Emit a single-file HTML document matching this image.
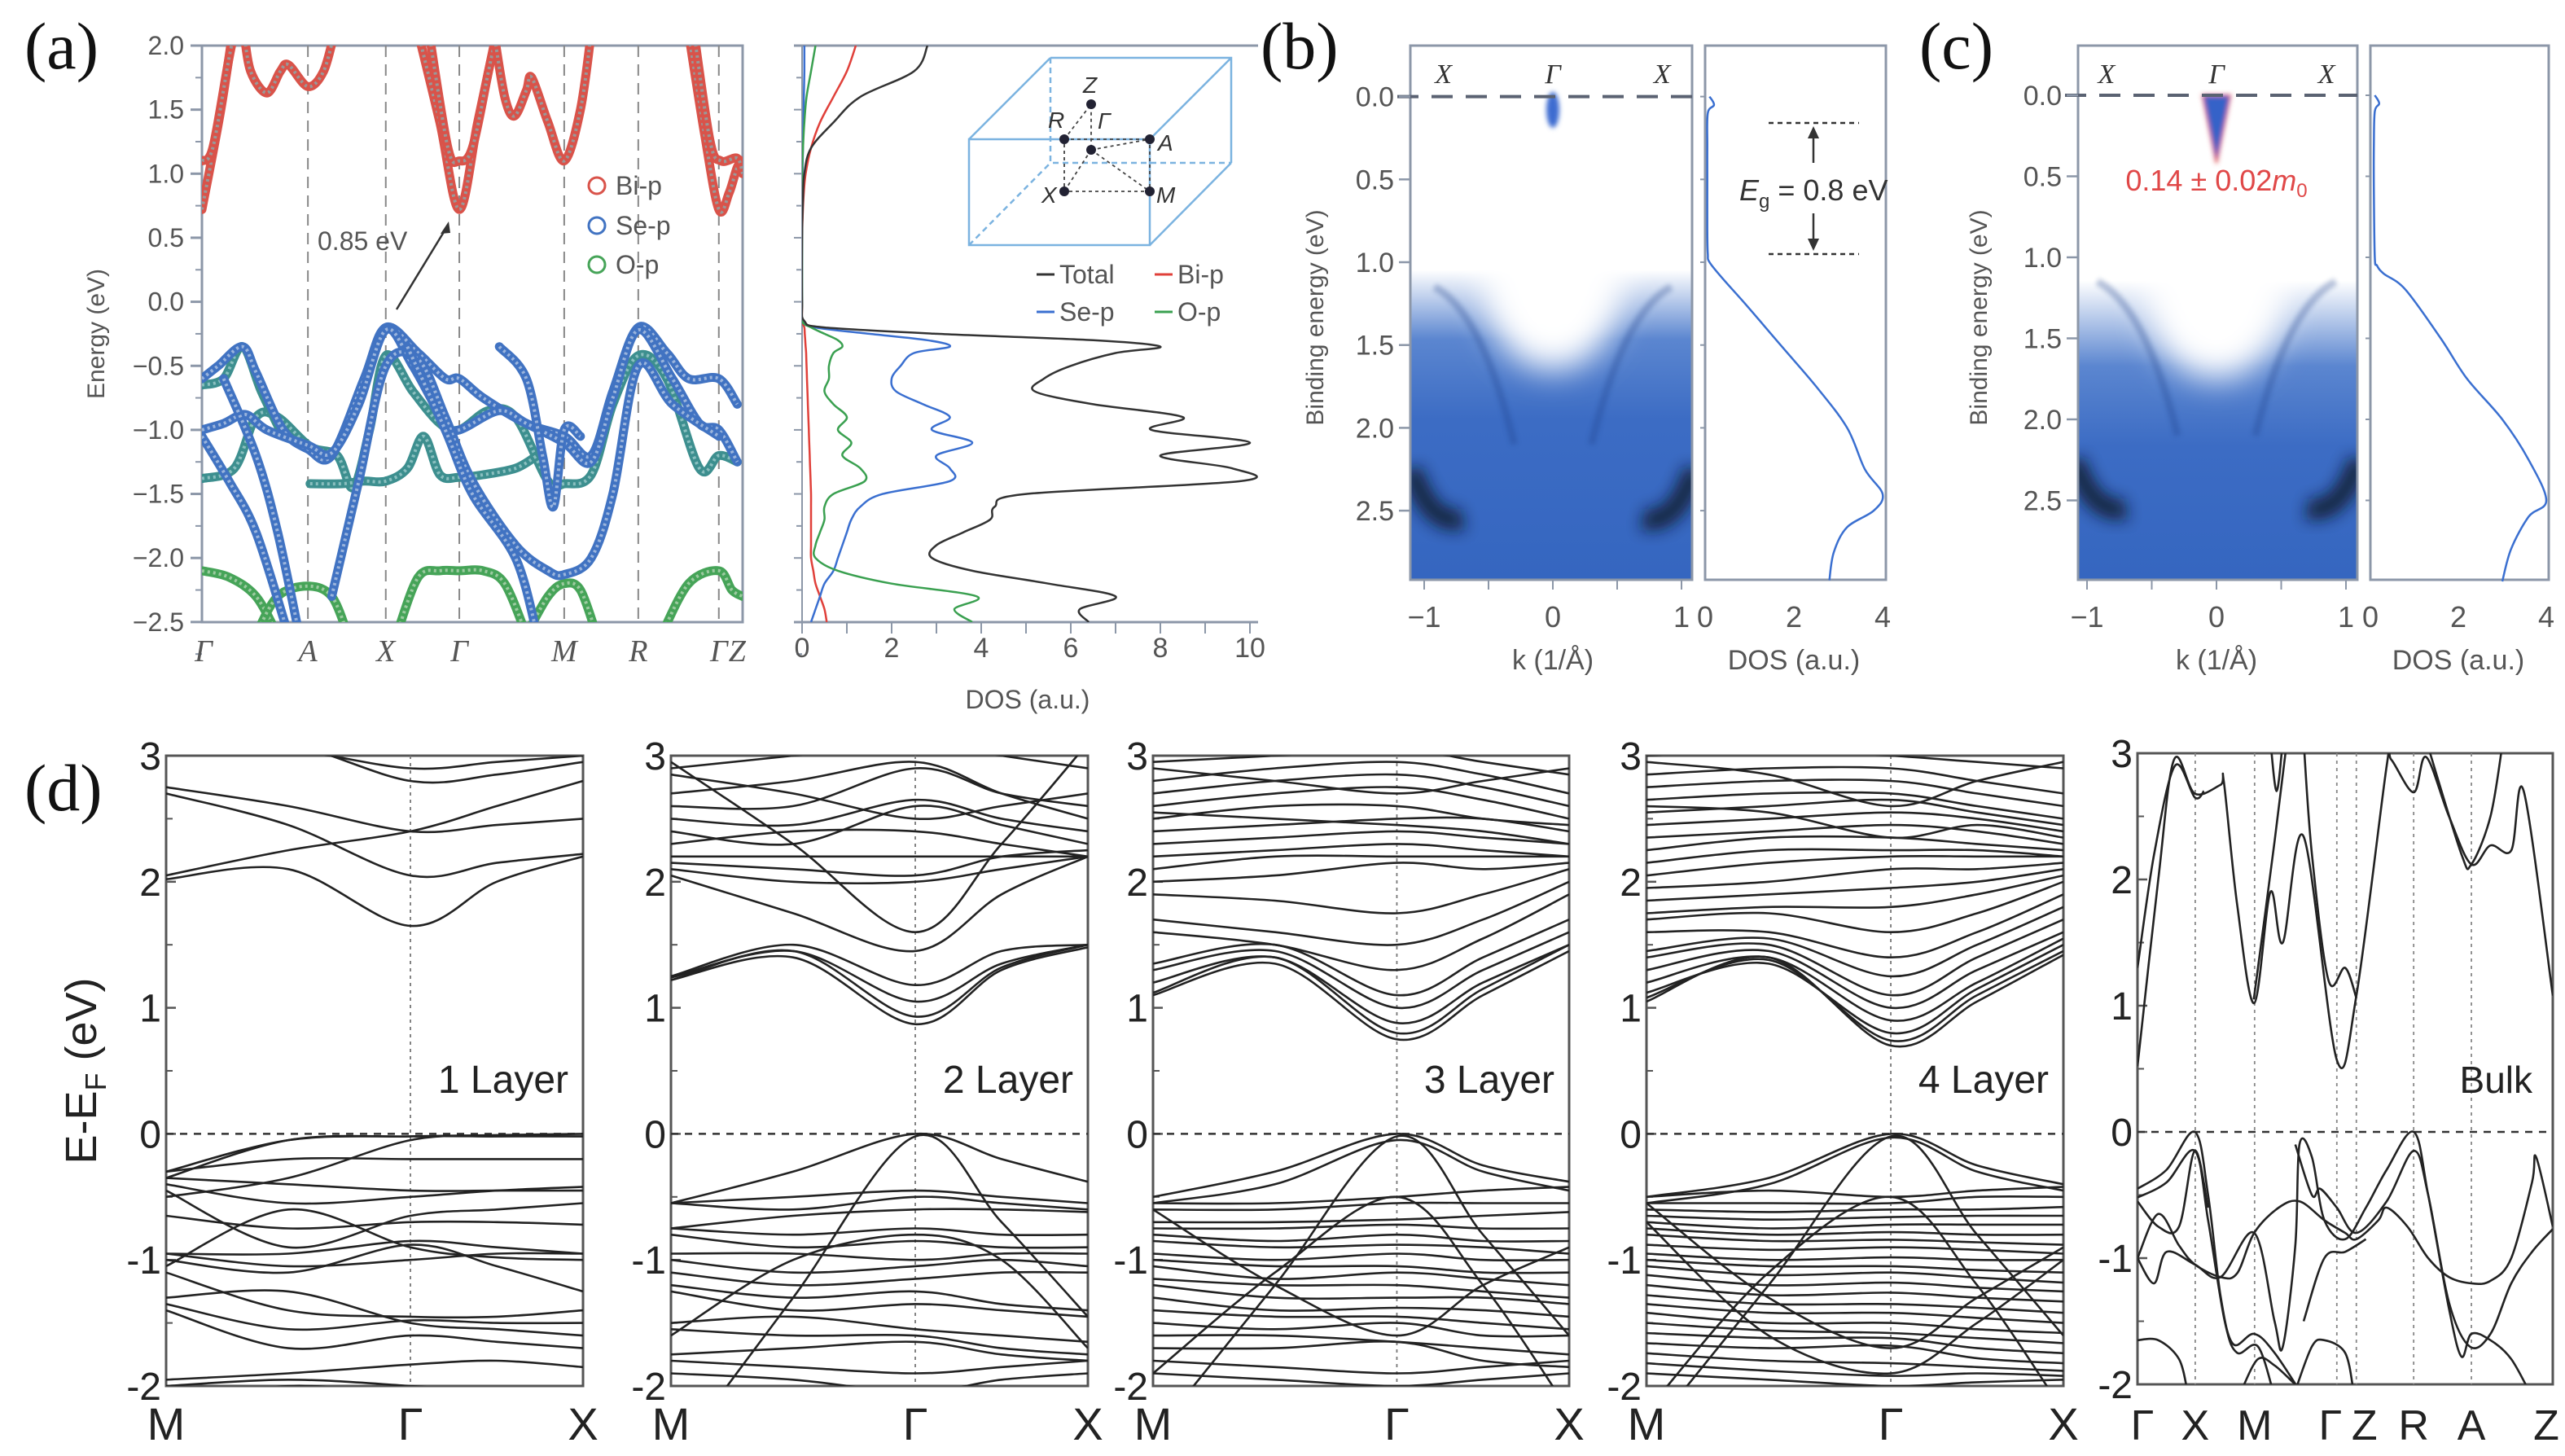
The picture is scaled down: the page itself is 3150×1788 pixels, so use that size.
<!DOCTYPE html>
<html><head><meta charset="utf-8">
<style>
html,body{margin:0;padding:0;background:#fff;}
svg{display:block;}
.nar{font-family:"Liberation Sans Narrow","Liberation Sans",sans-serif;}
.ser{font-family:"Liberation Serif",serif;}
.san{font-family:"Liberation Sans",sans-serif;}
</style></head>
<body>
<svg id="fig" xmlns="http://www.w3.org/2000/svg" width="3150" height="1788" viewBox="0 0 3150 1788">
<defs>
  <clipPath id="clipA"><rect x="248" y="56" width="664" height="708"/></clipPath>
  <clipPath id="clipAD"><rect x="985" y="56" width="560" height="708"/></clipPath>
  <clipPath id="clipB"><rect x="1732" y="56" width="346" height="656"/></clipPath>
  <clipPath id="clipC"><rect x="2552" y="56" width="343" height="656"/></clipPath>
  <clipPath id="clipD1"><rect x="204" y="928" width="512" height="774"/></clipPath>
  <clipPath id="clipD2"><rect x="824" y="928" width="512" height="774"/></clipPath>
  <clipPath id="clipD3"><rect x="1416" y="928" width="511" height="774"/></clipPath>
  <clipPath id="clipD4"><rect x="2022" y="928" width="512" height="774"/></clipPath>
  <clipPath id="clipD5"><rect x="2625" y="925" width="510" height="775"/></clipPath>
  <filter id="blur20" x="-50%" y="-50%" width="200%" height="200%"><feGaussianBlur stdDeviation="20"/></filter>
  <filter id="blur10" x="-50%" y="-50%" width="200%" height="200%"><feGaussianBlur stdDeviation="9"/></filter>
  <filter id="blur4" x="-50%" y="-50%" width="200%" height="200%"><feGaussianBlur stdDeviation="3"/></filter>
  <linearGradient id="arpesGradB" x1="0" y1="0" x2="0" y2="1">
    <stop offset="0" stop-color="#fff"/><stop offset="0.42" stop-color="#fff"/>
    <stop offset="0.55" stop-color="#5b86d0"/><stop offset="0.7" stop-color="#3c6cc4"/><stop offset="1" stop-color="#3566c0"/>
  </linearGradient>
  <linearGradient id="arpesGradC" x1="0" y1="0" x2="0" y2="1">
    <stop offset="0" stop-color="#fff"/><stop offset="0.44" stop-color="#fff"/>
    <stop offset="0.6" stop-color="#5b86d0"/><stop offset="0.75" stop-color="#3c6cc4"/><stop offset="1" stop-color="#3566c0"/>
  </linearGradient>
</defs>

<text x="30" y="84" font-size="82" class="ser" fill="#111">(a)</text>
<text x="1548" y="84" font-size="82" class="ser" fill="#111">(b)</text>
<text x="2357" y="84" font-size="82" class="ser" fill="#111">(c)</text>
<text x="30" y="995" font-size="82" class="ser" fill="#111">(d)</text>

<g id="gA"></g>
<g id="gAD"></g>
<g id="gB"></g>
<g id="gC"></g>
<g id="gD"></g>
</svg>

<script>
const aBandsRed = [
 [[0,0.72],[0.035,1.5],[0.06,2.2]],
 [[0,1.1],[0.02,1.2],[0.05,1.9],[0.065,2.2]],
 [[0.078,2.1],[0.09,1.8],[0.12,1.63],[0.145,1.8],[0.16,1.85],[0.196,1.68],[0.225,1.8],[0.245,2.1]],
 [[0.4,2.1],[0.44,1.4],[0.476,0.72],[0.51,1.4],[0.545,2.1]],
 [[0.42,2.1],[0.455,1.2],[0.476,1.1],[0.5,1.2],[0.53,1.8],[0.545,2.1]],
 [[0.54,2.1],[0.56,1.6],[0.578,1.45],[0.6,1.65],[0.61,1.75],[0.64,1.4],[0.67,1.1],[0.7,1.5],[0.72,2.1]],
 [[0.9,2.1],[0.93,1.3],[0.956,0.72],[0.975,0.85],[0.99,1.05],[1.0,1.1]],
 [[0.91,2.1],[0.94,1.25],[0.96,1.1],[0.99,1.12],[1.0,1.0]]
];
const aBandsBlue = [
 [[0,-0.6],[0.03,-0.5],[0.075,-0.35],[0.1,-0.55],[0.15,-1.0],[0.196,-1.15],[0.24,-1.2],[0.3,-0.6],[0.34,-0.2],[0.4,-0.4],[0.45,-0.6],[0.476,-0.6],[0.52,-0.75],[0.6,-0.95],[0.67,-1.05],[0.72,-1.2],[0.76,-0.7],[0.807,-0.2],[0.86,-0.4],[0.9,-0.6],[0.956,-0.6],[0.99,-0.8]],
 [[0,-1.0],[0.04,-0.95],[0.08,-0.88],[0.12,-1.0],[0.196,-1.12],[0.24,-1.18],[0.29,-0.8],[0.34,-0.22],[0.39,-0.5],[0.45,-0.95],[0.476,-1.0],[0.55,-0.85],[0.6,-0.95],[0.67,-1.1],[0.72,-1.25],[0.76,-0.75],[0.807,-0.22],[0.87,-0.6],[0.92,-0.95],[0.956,-1.0],[0.99,-1.25]],
 [[0,-1.05],[0.05,-1.4],[0.1,-1.8],[0.16,-2.6]],
 [[0.04,-0.6],[0.1,-1.2],[0.14,-1.8],[0.18,-2.6]],
 [[0.24,-2.3],[0.29,-1.4],[0.34,-0.5],[0.4,-0.45],[0.45,-0.9],[0.5,-1.4],[0.58,-1.9],[0.64,-2.1],[0.67,-2.13],[0.72,-2.0],[0.76,-1.5],[0.807,-0.5],[0.87,-0.8],[0.956,-1.05]],
 [[0.38,-0.35],[0.45,-1.0],[0.5,-1.5],[0.58,-2.0],[0.62,-2.6]],
 [[0.55,-0.35],[0.6,-0.6],[0.63,-1.2],[0.65,-1.6],[0.67,-1.0],[0.7,-1.05]]
];
const aBandsTeal = [
 [[0,-1.38],[0.06,-1.3],[0.1,-0.9],[0.14,-0.9],[0.2,-1.13],[0.25,-1.2],[0.28,-1.45],[0.31,-1.0],[0.34,-0.42],[0.39,-0.7],[0.44,-0.95],[0.476,-1.0],[0.53,-0.85],[0.58,-0.9],[0.64,-1.4],[0.67,-1.42],[0.72,-1.35],[0.76,-0.8],[0.807,-0.42],[0.86,-0.6],[0.92,-1.3],[0.956,-1.2],[0.99,-1.25]],
 [[0.2,-1.42],[0.26,-1.42],[0.3,-1.4],[0.34,-1.4],[0.38,-1.3],[0.41,-1.05],[0.44,-1.35],[0.476,-1.37],[0.52,-1.35],[0.58,-1.3],[0.62,-1.2]],
 [[0,-0.65],[0.04,-0.6],[0.075,-0.35],[0.11,-0.7],[0.15,-1.05]]
];
const aBandsGreen = [
 [[0,-2.1],[0.05,-2.15],[0.1,-2.3],[0.14,-2.6]],
 [[0.1,-2.6],[0.14,-2.3],[0.196,-2.22],[0.24,-2.3],[0.27,-2.6]],
 [[0.36,-2.6],[0.4,-2.15],[0.44,-2.1],[0.476,-2.1],[0.52,-2.1],[0.56,-2.2],[0.6,-2.6]],
 [[0.6,-2.6],[0.64,-2.3],[0.67,-2.2],[0.7,-2.25],[0.73,-2.6]],
 [[0.85,-2.6],[0.9,-2.2],[0.956,-2.1],[0.98,-2.25],[1.0,-2.3]]
];
const aSymLabels = ["Γ","A","X","Γ","M","R","Γ","Z"];
const aSymK = [0.003,0.196,0.34,0.476,0.67,0.807,0.956,0.99];
const aYTicks = [2.0,1.5,1.0,0.5,0.0,-0.5,-1.0,-1.5,-2.0,-2.5];
const aYTickLabels = ["2.0","1.5","1.0","0.5","0.0","−0.5","−1.0","−1.5","−2.0","−2.5"];

const dosE = [2.0,1.8,1.6,1.4,1.2,1.0,0.8,0.5,0,-0.15,-0.2,-0.25,-0.3,-0.35,-0.4,-0.5,-0.6,-0.7,-0.8,-0.9,-1.0,-1.1,-1.2,-1.3,-1.4,-1.5,-1.6,-1.7,-1.8,-1.9,-2.0,-2.1,-2.2,-2.3,-2.4,-2.5];
const dosTotal = [2.8,2.5,1.3,0.7,0.2,0.05,0.02,0,0,0.05,0.5,3,6.5,8.0,7,6,5.4,5.2,6.5,8.5,7.8,10,8,9.6,9.8,5,4.3,4.2,3.6,3.0,2.9,3.8,5.5,7.0,6.2,6.4];
const dosSe = [0.05,0.05,0.04,0.03,0.02,0.01,0,0,0,0,0.3,1.5,2.8,3.3,2.5,2.2,2.0,2.1,2.7,3.3,2.9,3.8,3.0,3.3,3.3,1.8,1.3,1.1,1.0,0.9,0.8,0.7,0.5,0.4,0.3,0.2];
const dosO = [0.3,0.2,0.1,0.05,0.02,0,0,0,0,0,0.2,0.5,0.8,0.9,0.7,0.6,0.6,0.5,0.7,1.0,0.8,1.1,0.9,1.3,1.4,0.7,0.5,0.5,0.4,0.3,0.3,0.8,2.0,3.9,3.4,3.8];
const dosBi = [1.2,1.0,0.7,0.4,0.2,0.08,0.03,0,0,0,0.05,0.06,0.07,0.08,0.09,0.1,0.11,0.12,0.13,0.14,0.15,0.16,0.17,0.18,0.19,0.2,0.2,0.2,0.2,0.2,0.2,0.25,0.3,0.4,0.5,0.55];
const dosXTicks = [0,2,4,6,8,10];

const bDosE = [0,0.05,0.1,0.3,0.5,0.8,0.95,1.0,1.1,1.25,1.5,1.75,2.0,2.25,2.4,2.5,2.6,2.75,2.92];
const bDosV = [0.1,0.2,0.06,0.05,0.05,0.05,0.06,0.1,0.4,0.9,1.7,2.5,3.2,3.6,4.0,3.8,3.2,2.9,2.8];
const cDosE = [0,0.05,0.1,0.3,0.6,1.0,1.05,1.1,1.2,1.5,1.75,2.0,2.25,2.5,2.6,2.8,3.0];
const cDosV = [0.1,0.2,0.1,0.08,0.08,0.1,0.15,0.3,0.8,1.6,2.2,3.0,3.6,4.0,3.6,3.2,3.0];
const arpesYTicks = [0.0,0.5,1.0,1.5,2.0,2.5];
const arpesYLabels = ["0.0","0.5","1.0","1.5","2.0","2.5"];
const arpesKTicks = [-1,-0.5,0,0.5,1];
const arpesKLabels = ["−1","0","1"];
const arpesKLabelVals = [-1,0,1];
const smallDosTicks = [0,2,4];

const dK = [0,0.293,0.586,0.793,1];
const d1Bands = [
 [2.75,2.6,2.4,2.45,2.5],[2.7,2.45,2.05,2.15,2.22],[2.05,2.25,2.4,2.6,2.8],[2.02,2.1,1.65,2.0,2.2],
 [3.1,3.05,2.9,2.95,3.0],[3.2,3.1,2.8,2.85,2.95],
 [-0.3,-0.05,-0.02,-0.02,-0.02],[-0.3,-0.2,-0.2,-0.2,-0.2],[-0.35,-0.05,-0.02,-0.01,0],
 [-0.35,-0.4,-0.45,-0.45,-0.45],[-0.4,-0.55,-0.5,-0.45,-0.42],[-0.5,-0.35,-0.05,-0.02,-0.02],
 [-0.45,-0.9,-0.65,-0.6,-0.55],[-0.65,-0.75,-0.7,-0.7,-0.72],[-0.95,-0.95,-0.85,-0.9,-0.95],
 [-1.0,-1.1,-0.88,-1.05,-1.25],[-1.05,-0.6,-0.9,-0.98,-1.0],[-0.95,-1.05,-1.0,-0.95,-0.95],
 [-1.1,-1.4,-1.45,-1.45,-1.4],[-1.3,-1.25,-1.5,-1.55,-1.6],[-1.35,-1.55,-1.48,-1.5,-1.5],
 [-1.4,-1.7,-1.6,-1.65,-1.7],[-1.95,-1.9,-1.83,-1.8,-1.85],[-2.0,-1.95,-2.0,-2.05,-2.1],[-2.2,-2.0,-2.1,-2.2,-2.2]
];
const d2Bands = [
 [1.22,1.4,0.87,1.3,1.48],[1.22,1.45,0.93,1.32,1.5],[1.24,1.45,1.05,1.35,1.5],[1.25,1.5,1.18,1.45,1.5],
 [2.05,1.75,1.45,1.9,2.2],[2.1,2.0,2.0,2.1,2.2],[2.15,2.1,2.05,2.2,2.25],[2.2,2.2,2.2,2.2,2.2],
 [2.3,2.4,2.4,2.3,2.2],[2.4,2.3,2.6,2.45,2.3],[2.5,2.45,2.65,2.5,2.4],[2.6,2.6,2.9,2.7,2.6],
 [2.7,2.8,2.95,2.7,2.5],[2.85,2.7,2.5,2.6,2.7],[2.9,3.0,3.1,3.0,2.9],[2.95,2.3,1.6,2.3,3.1],
 [-0.55,-0.3,0,-0.2,-0.38],[-0.55,-0.5,-0.45,-0.5,-0.55],[-0.55,-0.6,-0.5,-0.55,-0.6],
 [-0.75,-0.65,-0.6,-0.6,-0.62],[-0.75,-0.8,-0.75,-0.8,-0.8],[-0.8,-0.9,-0.85,-0.9,-0.9],
 [-0.95,-0.95,-1.0,-0.95,-0.95],[-1.0,-1.1,-1.05,-1.0,-1.05],[-1.1,-1.2,-1.15,-1.1,-1.1],
 [-1.2,-1.3,-1.25,-1.35,-1.4],[-1.25,-1.4,-1.35,-1.4,-1.45],[-1.5,-1.45,-1.55,-1.6,-1.65],
 [-1.55,-1.6,-1.6,-1.7,-1.75],[-1.75,-1.7,-1.65,-1.75,-1.8],[-1.8,-1.85,-1.9,-1.85,-1.8],
 [-1.9,-1.95,-2.05,-1.95,-1.9],[-2.6,-1.3,-0.02,-0.7,-1.45],[-1.6,-1.0,-0.8,-1.0,-1.7]
];
const d3Bands = [
 [1.1,1.35,0.75,1.1,1.45],[1.12,1.4,0.8,1.15,1.5],[1.2,1.4,0.88,1.2,1.5],[1.3,1.45,1.0,1.3,1.6],
 [1.35,1.5,1.1,1.4,1.7],[1.6,1.5,1.3,1.55,1.9],[1.7,1.6,1.5,1.7,2.0],[1.9,1.85,1.75,1.9,2.1],
 [2.0,2.05,2.15,2.1,2.15],[2.1,2.2,2.2,2.2,2.2],[2.2,2.25,2.3,2.25,2.2],[2.3,2.35,2.4,2.35,2.3],
 [2.4,2.45,2.5,2.5,2.4],[2.5,2.6,2.6,2.5,2.45],[2.6,2.7,2.75,2.65,2.5],[2.7,2.8,2.85,2.75,2.6],
 [2.8,2.9,2.95,2.85,2.7],[2.9,2.8,2.7,2.8,2.9],[2.55,2.5,2.45,2.4,2.3],[2.95,3.0,3.05,2.95,2.85],
 [-0.5,-0.3,0,-0.25,-0.38],[-0.55,-0.4,-0.05,-0.3,-0.45],[-0.55,-0.55,-0.5,-0.45,-0.42],
 [-0.6,-0.6,-0.55,-0.55,-0.55],[-0.7,-0.7,-0.68,-0.65,-0.62],[-0.75,-0.75,-0.72,-0.75,-0.75],
 [-0.8,-0.85,-0.8,-0.85,-0.85],[-0.85,-0.9,-0.88,-0.9,-0.95],[-0.95,-1.0,-0.95,-1.0,-1.0],
 [-1.0,-1.05,-1.05,-1.1,-1.1],[-1.05,-1.15,-1.1,-1.15,-1.2],[-1.15,-1.2,-1.2,-1.25,-1.3],
 [-1.2,-1.3,-1.3,-1.3,-1.35],[-1.3,-1.4,-1.38,-1.4,-1.45],[-1.4,-1.45,-1.45,-1.5,-1.55],
 [-1.5,-1.55,-1.5,-1.6,-1.6],[-1.6,-1.6,-1.65,-1.7,-1.75],[-1.7,-1.7,-1.65,-1.8,-1.85],
 [-1.8,-1.85,-1.9,-1.85,-1.8],[-1.9,-1.95,-2.0,-1.95,-1.9],[-2.4,-1.2,-0.02,-0.8,-1.6],
 [-1.9,-1.1,-0.5,-1.2,-2.2],[-0.6,-1.2,-1.6,-1.2,-0.9]
];
const d4Bands = [
 [1.05,1.4,0.7,1.05,1.42],[1.08,1.38,0.74,1.1,1.45],[1.12,1.35,0.8,1.15,1.5],[1.2,1.4,0.9,1.2,1.55],
 [1.3,1.45,1.0,1.3,1.6],[1.4,1.5,1.1,1.4,1.7],[1.45,1.55,1.25,1.5,1.8],[1.6,1.6,1.4,1.6,1.9],
 [1.7,1.75,1.6,1.75,2.0],[1.75,1.8,1.8,1.9,2.05],[1.85,1.9,1.95,2.0,2.1],[1.95,2.0,2.1,2.1,2.15],
 [2.05,2.15,2.2,2.2,2.2],[2.15,2.25,2.25,2.25,2.2],[2.25,2.35,2.35,2.3,2.25],[2.35,2.4,2.45,2.4,2.3],
 [2.45,2.5,2.55,2.5,2.4],[2.55,2.6,2.65,2.55,2.45],[2.65,2.7,2.7,2.6,2.5],[2.75,2.8,2.8,2.7,2.6],
 [2.85,2.9,2.9,2.8,2.7],[2.95,2.85,2.6,2.8,2.95],[2.6,2.55,2.35,2.45,2.35],[3.0,3.05,3.0,2.95,2.9],
 [-0.5,-0.35,0,-0.25,-0.4],[-0.55,-0.4,-0.03,-0.3,-0.45],[-0.5,-0.45,-0.5,-0.45,-0.42],
 [-0.55,-0.55,-0.55,-0.5,-0.5],[-0.6,-0.62,-0.6,-0.6,-0.58],[-0.65,-0.68,-0.66,-0.65,-0.65],
 [-0.7,-0.75,-0.72,-0.72,-0.72],[-0.75,-0.8,-0.78,-0.8,-0.8],[-0.8,-0.85,-0.84,-0.86,-0.88],
 [-0.88,-0.92,-0.9,-0.92,-0.95],[-0.95,-1.0,-0.98,-1.0,-1.0],[-1.0,-1.05,-1.05,-1.08,-1.1],
 [-1.05,-1.12,-1.1,-1.14,-1.18],[-1.12,-1.2,-1.18,-1.22,-1.25],[-1.2,-1.28,-1.26,-1.3,-1.33],
 [-1.28,-1.35,-1.35,-1.38,-1.42],[-1.35,-1.42,-1.42,-1.46,-1.5],[-1.42,-1.5,-1.5,-1.55,-1.58],
 [-1.5,-1.56,-1.58,-1.62,-1.66],[-1.58,-1.62,-1.62,-1.7,-1.74],[-1.66,-1.7,-1.68,-1.78,-1.82],
 [-1.74,-1.8,-1.82,-1.85,-1.88],[-1.82,-1.88,-1.92,-1.9,-1.92],[-1.9,-1.95,-2.0,-1.97,-1.95],
 [-2.4,-1.2,-0.02,-0.8,-1.6],[-2.2,-1.1,-0.5,-1.2,-2.2],[-0.55,-1.3,-1.7,-1.3,-0.9],[-0.7,-1.6,-1.9,-1.5,-1.0]
];
const dYTicks = [3,2,1,0,-1,-2];
const dYLabels = ["3","2","1","0","-1","-2"];
const dSymLabels = ["M","Γ","X"];
const dSymK = [0,0.586,1];
const dLayerNames = ["1 Layer","2 Layer","3 Layer","4 Layer"];

const bulkBands = [
 [[0,0.52],[0.05,2.0],[0.088,2.95],[0.138,2.68],[0.2,2.75],[0.208,2.77],[0.24,1.8],[0.281,1.02],[0.32,1.9],[0.35,1.5],[0.4,2.34],[0.48,0.57],[0.527,1.08],[0.6,2.9],[0.611,2.95],[0.665,2.69],[0.695,2.97],[0.75,2.5],[0.804,2.12],[0.85,2.27],[0.9,2.23],[0.93,2.7],[1.0,1.08]],
 [[0,1.3],[0.04,2.2],[0.09,2.9],[0.138,2.65],[0.16,2.7]],
 [[0.28,1.05],[0.33,2.3],[0.36,3.1]],
 [[0.32,3.1],[0.335,2.7],[0.35,3.1]],
 [[0.4,3.1],[0.42,2.2],[0.46,1.2],[0.5,1.3],[0.527,1.06]],
 [[0.7,3.05],[0.78,2.2],[0.804,2.12],[0.85,2.5],[0.88,3.1]],
 [[0,-0.45],[0.07,-0.3],[0.138,0],[0.17,-0.5],[0.2,-1.3],[0.23,-1.68],[0.281,-1.6],[0.33,-1.75],[0.4,-2.1]],
 [[0,-0.52],[0.07,-0.4],[0.138,-0.15],[0.17,-0.7],[0.21,-1.5],[0.24,-1.75],[0.29,-1.7],[0.33,-2.1]],
 [[0,-1.0],[0.04,-1.2],[0.07,-0.95],[0.138,-1.05],[0.2,-1.15],[0.281,-0.8],[0.33,-1.5],[0.35,-1.7],[0.38,-0.9],[0.39,-0.1],[0.42,-0.2],[0.45,-0.7],[0.5,-0.85],[0.55,-0.6],[0.6,-0.3],[0.665,0],[0.7,-0.5],[0.75,-1.4],[0.78,-1.78],[0.804,-1.6],[0.85,-1.65],[0.9,-1.8],[0.95,-2.1]],
 [[0,-1.0],[0.05,-0.65],[0.1,-0.9],[0.138,-1.05],[0.2,-1.15],[0.24,-1.12],[0.281,-0.8],[0.34,-0.6],[0.39,-0.55],[0.45,-0.7],[0.5,-0.8],[0.527,-0.85],[0.58,-0.7],[0.6,-0.6],[0.65,-0.75],[0.7,-1.0],[0.75,-1.15],[0.804,-1.2],[0.85,-1.18],[0.9,-1.0],[0.95,-0.4],[0.96,-0.2],[1.0,-0.75]],
 [[0,-0.55],[0.05,-0.75],[0.1,-0.75],[0.138,-0.15],[0.17,-0.6]],
 [[0.38,-0.1],[0.42,-0.5],[0.44,-0.45],[0.48,-0.6],[0.527,-0.8],[0.6,-0.55],[0.665,-0.15],[0.7,-0.5],[0.75,-1.35],[0.8,-1.7],[0.85,-1.6],[0.9,-1.2],[0.95,-0.95],[1.0,-0.77]],
 [[0,-1.65],[0.05,-1.65],[0.1,-1.8],[0.12,-2.05]],
 [[0.25,-2.05],[0.29,-1.8],[0.33,-1.85],[0.38,-2.0],[0.42,-2.1]],
 [[0.38,-2.05],[0.42,-1.7],[0.45,-1.65],[0.5,-1.75],[0.52,-2.05]],
 [[0.4,-1.5],[0.45,-1.0],[0.5,-0.95],[0.55,-0.85]]
];
const bulkSymLabels = ["Γ","X","M","Γ","Z","R","A","Z"];
const bulkSymK = [0,0.139,0.282,0.48,0.527,0.665,0.804,1];

const NS = "http://www.w3.org/2000/svg";
function el(tag, attrs, parent){
  const e = document.createElementNS(NS, tag);
  for (const k in attrs) e.setAttribute(k, attrs[k]);
  if (parent) parent.appendChild(e);
  return e;
}
function txt(s, attrs, parent){ const t = el("text", attrs, parent); t.textContent = s; return t; }
function crPath(pts){
  if (pts.length < 2) return "";
  let d = "M" + pts[0][0].toFixed(1) + "," + pts[0][1].toFixed(1);
  for (let i = 0; i < pts.length - 1; i++){
    const p0 = pts[Math.max(0,i-1)], p1 = pts[i], p2 = pts[i+1], p3 = pts[Math.min(pts.length-1,i+2)];
    const c1x = p1[0] + (p2[0]-p0[0])/6, c1y = p1[1] + (p2[1]-p0[1])/6;
    const c2x = p2[0] - (p3[0]-p1[0])/6, c2y = p2[1] - (p3[1]-p1[1])/6;
    d += " C" + c1x.toFixed(1)+","+c1y.toFixed(1)+" "+c2x.toFixed(1)+","+c2y.toFixed(1)+" "+p2[0].toFixed(1)+","+p2[1].toFixed(1);
  }
  return d;
}
const AX = "#8c97a8", TL = "#555";

// ---------- Panel (a) ----------
const gA = document.getElementById("gA");
const aX = k => 248 + k*664;
const aY = e => 56 + (2.0 - e)*157.3;
el("rect",{x:248,y:56,width:664,height:708,fill:"none",stroke:AX,"stroke-width":3},gA);
aYTicks.forEach((v,i)=>{
  const t = el("line",{x1:234,x2:248,y1:aY(v),y2:aY(v),stroke:AX,"stroke-width":3},gA);
  
  
  const m = el("line",{x1:240,x2:248,y1:aY(v-0.25),y2:aY(v-0.25),stroke:AX,"stroke-width":2},gA);
  
  
  const l = txt(aYTickLabels[i],{x:226,y:aY(v)+11,"font-size":32,"text-anchor":"end",fill:TL,class:"nar"},gA);
  
  
});
const aYT = txt("Energy (eV)",{x:0,y:0,"font-size":30,"text-anchor":"middle",fill:TL,class:"san",transform:"translate(128,410) rotate(-90)"},gA);


aSymK.forEach((k,i)=>{
  if (i>0 && i<aSymK.length-1){
    const v = el("line",{x1:aX(k),x2:aX(k),y1:56,y2:764,stroke:"#888","stroke-width":2,"stroke-dasharray":"14 9"},gA);
    
    
  }
  const l = txt(aSymLabels[i],{x:aX(k),y:812,"font-size":38,"text-anchor":"middle",fill:TL,class:"ser","font-style":"italic"},gA);
  
  
});
const aBandG = el("g",{"clip-path":"url(#clipA)"},gA);


function drawABands(arr, col, inner, name){
  arr.forEach(b=>{
    const pts = b.map(p=>[aX(p[0]),aY(p[1])]);
    const d = crPath(pts);
    const p = el("path",{d:d,fill:"none",stroke:col,"stroke-width":11,"stroke-linecap":"round"},aBandG);
    
    
    const q = el("path",{d:d,fill:"none",stroke:inner,"stroke-width":4,"stroke-dasharray":"3 4"},aBandG);
    
    
  });
}
drawABands(aBandsGreen,"#46a458","#9ccaa0","band-o-p");
drawABands(aBandsTeal,"#3d8f8f","#8abfbf","band-mixed");
drawABands(aBandsBlue,"#4173c2","#9ab4dc","band-se-p");
drawABands(aBandsRed,"#d9534a","#999","band-bi-p");
[["Bi-p","#d9534a",228],["Se-p","#4173c2",277],["O-p","#46a458",325]].forEach(r=>{
  const c = el("circle",{cx:733,cy:r[2],r:10,fill:"none",stroke:r[1],"stroke-width":3},gA);
  
  
  const t = txt(r[0],{x:756,y:r[2]+11,"font-size":32,fill:TL,class:"nar"},gA);
  
  
});
const ann = txt("0.85 eV",{x:390,y:307,"font-size":32,fill:TL,class:"nar"},gA);


const arr = el("line",{x1:487,y1:380,x2:548,y2:280,stroke:"#333","stroke-width":2.5},gA);


const arrH = el("path",{d:"M551,272 L541,287 L553,286 Z",fill:"#333"},gA);



// ---------- Panel (a) DOS ----------
const gAD = document.getElementById("gAD");
const dX = v => 985 + v*55;
el("line",{x1:975,x2:1545,y1:56,y2:56,stroke:AX,"stroke-width":3},gAD);
el("line",{x1:975,x2:1545,y1:764,y2:764,stroke:AX,"stroke-width":3},gAD);
el("line",{x1:985,x2:985,y1:56,y2:764,stroke:AX,"stroke-width":2},gAD);
aYTicks.forEach(v=>{
  const t = el("line",{x1:975,x2:985,y1:aY(v),y2:aY(v),stroke:AX,"stroke-width":2},gAD);
  
  
  const m = el("line",{x1:978,x2:985,y1:aY(v-0.25),y2:aY(v-0.25),stroke:AX,"stroke-width":2},gAD);
  
  
});
for (let v=0; v<=10; v++){
  const t = el("line",{x1:dX(v),x2:dX(v),y1:764,y2:778,stroke:AX,"stroke-width":2},gAD);
  
  
}
dosXTicks.forEach(v=>{
  const l = txt(String(v),{x:dX(v),y:807,"font-size":34,"text-anchor":"middle",fill:TL,class:"nar"},gAD);
  
  
});
const dosT = txt("DOS (a.u.)",{x:1262,y:870,"font-size":32,"text-anchor":"middle",fill:TL,class:"nar"},gAD);


const dosG = el("g",{"clip-path":"url(#clipAD)"},gAD);
[[dosBi,"#e0403a","dos-bi-p"],[dosSe,"#3a6fd0","dos-se-p"],[dosO,"#3aa050","dos-o-p"],[dosTotal,"#333","dos-total"]].forEach(s=>{
  const pts = dosE.map((e,i)=>[dX(s[0][i]),aY(e)]);
  const p = el("path",{d:crPath(pts),fill:"none",stroke:s[1],"stroke-width":2.5},dosG);
  
  
});
const cube = el("g",{fill:"none",stroke:"#7bb3e0","stroke-width":2.5},gAD);


el("rect",{x:1190,y:171,width:222,height:130},cube);
el("path",{d:"M1290,71 H1512 V200 M1412,171 L1512,71 M1412,301 L1512,200 M1190,171 L1290,71"},cube);
el("path",{d:"M1290,71 V200 H1512 M1190,301 L1290,200","stroke-dasharray":"7 5"},cube);
const cubeD = el("g",{fill:"none",stroke:"#444","stroke-width":1.8,"stroke-dasharray":"4 4"},gAD);


el("path",{d:"M1307,171 L1340,128 L1340,184 M1307,171 L1412,171 L1412,235 L1307,235 L1307,171 M1340,184 L1412,171 M1340,184 L1307,235 M1340,184 L1412,235"},cubeD);
[["Z",1340,128,-10,-14],["R",1307,171,-20,-14],["Γ",1340,184,8,-26],["A",1412,171,10,14],["X",1307,235,-28,14],["M",1412,235,8,14]].forEach(p=>{
  const c = el("circle",{cx:p[1],cy:p[2],r:6,fill:"#223"},gAD);
  
  
  const t = txt(p[0],{x:p[1]+p[3],y:p[2]+p[4],"font-size":28,fill:"#333",class:"nar","font-style":"italic"},gAD);
  
  
});
[["Total","#333",1273,337],["Bi-p","#e0403a",1418,337],["Se-p","#3a6fd0",1273,383],["O-p","#3aa050",1418,383]].forEach(r=>{
  const l = el("line",{x1:r[2],x2:r[2]+22,y1:r[3],y2:r[3],stroke:r[1],"stroke-width":3},gAD);
  
  
  const t = txt(r[0],{x:r[2]+28,y:r[3]+11,"font-size":32,fill:TL,class:"nar"},gAD);
  
  
});

// ---------- ARPES panels ----------
function arpes(g, o){
  const X = k => o.k0 + k*o.kScale;
  const Y = e => o.y0 + e*o.eScale;
  const DX = v => o.d0 + v*o.dScale;
  const img = el("g",{"clip-path":"url("+o.clip+")"},g);
  
  
  el("rect",{x:o.x1,y:56,width:o.x2-o.x1,height:656,fill:"url("+o.grad+")"},img);
  const wh = el("ellipse",{cx:X(0),cy:Y(o.holeE),rx:0.55*o.kScale,ry:0.55*o.eScale,fill:"#fff",filter:"url(#blur20)"},img);
  
  const st = el("path",{d:"M"+X(-0.92)+","+Y(1.15)+" Q"+X(-0.55)+","+Y(1.3)+" "+X(-0.3)+","+Y(2.1)+" M"+X(0.92)+","+Y(1.15)+" Q"+X(0.55)+","+Y(1.3)+" "+X(0.3)+","+Y(2.1),fill:"none",stroke:"#1d3f8a","stroke-width":9,opacity:0.3,filter:"url(#blur4)"},img);
  
  const cr = el("path",{d:"M"+X(-1.1)+","+Y(2.25)+" Q"+X(-0.95)+","+Y(2.6)+" "+X(-0.7)+","+Y(2.55)+" M"+X(1.1)+","+Y(2.25)+" Q"+X(0.95)+","+Y(2.6)+" "+X(0.7)+","+Y(2.55),fill:"none",stroke:"#0d1628","stroke-width":26,opacity:0.8,filter:"url(#blur10)"},img);
  
  if (o.big){
    const sp = el("path",{d:"M"+(X(0)-17)+","+Y(0)+" L"+(X(0)+17)+","+Y(0)+" L"+X(0)+","+Y(0.42)+" Z",fill:"#3562c8",stroke:"#e05050","stroke-width":2,filter:"url(#blur4)"},img);
    
  } else {
    const sp = el("ellipse",{cx:X(0),cy:Y(0.08),rx:8,ry:22,fill:"#3c6cd0",filter:"url(#blur4)"},img);
    
  }
  el("rect",{x:o.x1,y:56,width:o.x2-o.x1,height:656,fill:"none",stroke:AX,"stroke-width":3},g);
  el("rect",{x:o.d0,y:56,width:o.dW,height:656,fill:"none",stroke:AX,"stroke-width":3},g);
  const fl = el("line",{x1:o.x1-16,x2:o.x2,y1:Y(0),y2:Y(0),stroke:"#5a6272","stroke-width":4,"stroke-dasharray":"26 16"},g);
  
  
  arpesYTicks.forEach((v,i)=>{
    const t = el("line",{x1:o.x1-14,x2:o.x1,y1:Y(v),y2:Y(v),stroke:AX,"stroke-width":2.5},g);
    
    
    const t2 = el("line",{x1:o.d0-6,x2:o.d0,y1:Y(v),y2:Y(v),stroke:AX,"stroke-width":2},g);
    
    
    const l = txt(arpesYLabels[i],{x:o.x1-20,y:Y(v)+12,"font-size":34,"text-anchor":"end",fill:TL,class:"nar"},g);
    
    
  });
  arpesKTicks.forEach(k=>{
    const t = el("line",{x1:X(k),x2:X(k),y1:712,y2:724,stroke:AX,"stroke-width":2},g);
    
    
  });
  arpesKLabelVals.forEach((k,i)=>{
    const l = txt(arpesKLabels[i],{x:X(k),y:770,"font-size":36,"text-anchor":"middle",fill:TL,class:"nar"},g);
    
    
  });
  smallDosTicks.forEach(v=>{
    const l = txt(String(v),{x:DX(v),y:770,"font-size":36,"text-anchor":"middle",fill:TL,class:"nar"},g);
    
    
  });
  [["X",-0.85],["Γ",0],["X",0.85]].forEach(s=>{
    const l = txt(s[0],{x:X(s[1]),y:102,"font-size":34,"text-anchor":"middle",fill:"#333",class:"ser","font-style":"italic"},g);
    
    
  });
  const kt = txt("k (1/Å)",{x:X(0),y:822,"font-size":34,"text-anchor":"middle",fill:TL,class:"nar"},g);
  
  
  const dt = txt("DOS (a.u.)",{x:DX(2),y:822,"font-size":34,"text-anchor":"middle",fill:TL,class:"nar"},g);
  
  
  const yt = txt("Binding energy (eV)",{x:0,y:0,"font-size":30,"text-anchor":"middle",fill:TL,class:"san",transform:"translate("+o.yTitleX+",390) rotate(-90)"},g);
  
  
  const pts = o.dosE.map((e,i)=>[DX(o.dosV[i]),Y(e)]);
  const dp = el("path",{d:crPath(pts),fill:"none",stroke:"#3a6fd0","stroke-width":2.5},g);
  
  
}
arpes(document.getElementById("gB"),{k0:1907,kScale:158,y0:118.6,eScale:203.4,d0:2094,dScale:54.5,dW:222,x1:1732,x2:2078,clip:"#clipB",grad:"#arpesGradB",holeE:1.1,big:false,yTitleX:1625,dosE:bDosE,dosV:bDosV});
arpes(document.getElementById("gC"),{k0:2722,kScale:159,y0:117,eScale:199,d0:2911,dScale:54,dW:219,x1:2552,x2:2895,clip:"#clipC",grad:"#arpesGradC",holeE:1.2,big:true,yTitleX:2440,dosE:cDosE,dosV:cDosV});
const gB = document.getElementById("gB");
const egG = el("g",{stroke:"#333","stroke-width":2.5},gB);


el("line",{x1:2172,x2:2283,y1:151,y2:151,"stroke-dasharray":"6 5"},egG);
el("line",{x1:2172,x2:2283,y1:312,y2:312,"stroke-dasharray":"6 5"},egG);
el("line",{x1:2227,x2:2227,y1:160,y2:200},egG);
el("line",{x1:2227,x2:2227,y1:262,y2:302},egG);
el("path",{d:"M2227,155 L2220,170 L2234,170 Z M2227,308 L2220,293 L2234,293 Z",fill:"#333",stroke:"none"},egG);
const egT = el("text",{x:2136,y:246,"font-size":36,fill:"#333",class:"nar"},gB);
egT.innerHTML = '<tspan font-style="italic">E</tspan><tspan font-size="24" dy="9">g</tspan><tspan dy="-9"> = 0.8 eV</tspan>';


const gC = document.getElementById("gC");
const mT = el("text",{x:2722,y:234,"font-size":36,"text-anchor":"middle",fill:"#e04848",class:"nar"},gC);
mT.innerHTML = '0.14 ± 0.02<tspan font-style="italic">m</tspan><tspan font-size="24" dy="8">0</tspan>';



// ---------- Panel (d) ----------
const gD = document.getElementById("gD");
const dPanels = [[204,716,"#clipD1",d1Bands],[824,1336,"#clipD2",d2Bands],[1416,1927,"#clipD3",d3Bands],[2022,2534,"#clipD4",d4Bands]];
const dY = e => 928 + (3 - e)*154.8;
function dFrame(x1,x2,yTop,yBot,Yf){
  el("rect",{x:x1,y:yTop,width:x2-x1,height:yBot-yTop,fill:"none",stroke:"#555","stroke-width":3},gD);
  dYTicks.forEach((v,i)=>{
    const t = el("line",{x1:x1,x2:x1+12,y1:Yf(v),y2:Yf(v),stroke:"#555","stroke-width":2.5},gD);
    
    
    if (v > -2){
      const m = el("line",{x1:x1,x2:x1+8,y1:Yf(v-0.5),y2:Yf(v-0.5),stroke:"#555","stroke-width":2},gD);
      
      
    }
    const l = txt(dYLabels[i],{x:x1-6,y:Yf(v)+17,"font-size":48,"text-anchor":"end",fill:"#222",class:"nar"},gD);
    
    
  });
  const z = el("line",{x1:x1,x2:x2,y1:Yf(0),y2:Yf(0),stroke:"#333","stroke-width":2.5,"stroke-dasharray":"9 8"},gD);
  
  
}
dPanels.forEach((P,pi)=>{
  const x1=P[0], x2=P[1];
  const X = k => x1 + k*(x2-x1);
  dFrame(x1,x2,928,1702,dY);
  const gv = el("line",{x1:X(0.586),x2:X(0.586),y1:928,y2:1702,stroke:"#777","stroke-width":1.8,"stroke-dasharray":"4 5"},gD);
  
  
  const bg = el("g",{"clip-path":"url("+P[2]+")"},gD);
  
  
  P[3].forEach(b=>{
    const pts = b.map((e,i)=>[X(dK[i]),dY(e)]);
    const p = el("path",{d:crPath(pts),fill:"none",stroke:"#222","stroke-width":2.6},bg);
    
    
  });
  dSymK.forEach((k,i)=>{
    const l = txt(dSymLabels[i],{x:X(k),y:1768,"font-size":56,"text-anchor":"middle",fill:"#222",class:"nar"},gD);
    
    
  });
  const ln = txt(dLayerNames[pi],{x:x2-18,y:1342,"font-size":48,"text-anchor":"end",fill:"#222",class:"nar"},gD);
  
  
});
const bY = e => 925 + (3 - e)*155;
const bX = k => 2625 + k*510;
dFrame(2625,3135,925,1700,bY);
bulkSymK.forEach((k,i)=>{
  if (i>0 && i<bulkSymK.length-1){
    const v = el("line",{x1:bX(k),x2:bX(k),y1:925,y2:1700,stroke:"#888","stroke-width":1.8,"stroke-dasharray":"4 5"},gD);
    
    
  }
});
const bulkG = el("g",{"clip-path":"url(#clipD5)"},gD);


bulkBands.forEach(b=>{
  const pts = b.map(p=>[bX(p[0]),bY(p[1])]);
  const p = el("path",{d:crPath(pts),fill:"none",stroke:"#222","stroke-width":2.6},bulkG);
  
  
});
bulkSymLabels.forEach((s,i)=>{
  const off = (i===3) ? -8 : (i===4 ? 10 : (i===7 ? -8 : (i===0 ? 6 : 0)));
  const l = txt(s,{x:bX(bulkSymK[i])+off,y:1768,"font-size":52,"text-anchor":"middle",fill:"#222",class:"san"},gD);
  
  
});
const bl = txt("Bulk",{x:3110,y:1342,"font-size":46,"text-anchor":"end",fill:"#222",class:"san"},gD);


const eef = el("text",{x:0,y:0,"font-size":54,"text-anchor":"middle",fill:"#222",class:"san",transform:"translate(118,1315) rotate(-90)"},gD);
eef.innerHTML = 'E-E<tspan font-size="36" dy="12">F</tspan><tspan dy="-12"> (eV)</tspan>';


</script>
</body></html>
